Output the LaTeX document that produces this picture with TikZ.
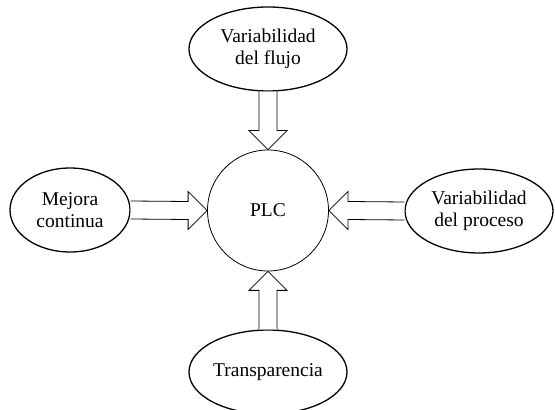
\documentclass[tikz,border=0pt]{standalone}
\usepackage{fontspec}
\setmainfont{Liberation Serif}
\usetikzlibrary{shapes.geometric,calc}
\tikzset{
  x=1pt, y=1pt,
  factor/.style={ellipse, draw, line width=1.3pt, inner sep=0pt,
    minimum width=#1, minimum height=84pt, align=center,
    font=\fontsize{19.5}{22}\selectfont},
  hub/.style={circle, draw, line width=0.8pt, minimum size=121pt,
    inner sep=0pt, font=\fontsize{19.5}{22}\selectfont},
  barrow/.style={draw, line width=0.8pt, line join=miter, fill=white}
}
\begin{document}
\begin{tikzpicture}
\useasboundingbox (0,0) rectangle (555,410);

\node[hub] (plc) at (268,199.5) {PLC};
\node[factor=158pt] (flujo) at (268,361) {Variabilidad\\del flujo};
\node[factor=120pt] (mejora) at (70,200) {Mejora\\continua};
\node[factor=148pt] (proceso) at (479,199) {Variabilidad\\del proceso};
\node[factor=158pt] (transp) at (268,38) {Transparencia};

% hollow block arrows pointing into the hub
\draw[barrow] ($(flujo.south)+(-9,0)$) -- ($(plc.north)+(-9,19)$)
  -- ($(plc.north)+(-19,19)$) -- (plc.north) -- ($(plc.north)+(19,19)$)
  -- ($(plc.north)+(9,19)$) -- ($(flujo.south)+(9,0)$);
\draw[barrow] ($(transp.north)+(-9,0)$) -- ($(plc.south)+(-9,-19)$)
  -- ($(plc.south)+(-19,-19)$) -- (plc.south) -- ($(plc.south)+(19,-19)$)
  -- ($(plc.south)+(9,-19)$) -- ($(transp.north)+(9,0)$);
\draw[barrow] ($(mejora.east)+(0,9)$) -- ($(plc.west)+(-19,9)$)
  -- ($(plc.west)+(-19,19)$) -- (plc.west) -- ($(plc.west)+(-19,-19)$)
  -- ($(plc.west)+(-19,-9)$) -- ($(mejora.east)+(0,-9)$);
\draw[barrow] ($(proceso.west)+(0,9)$) -- ($(plc.east)+(19,9)$)
  -- ($(plc.east)+(19,19)$) -- (plc.east) -- ($(plc.east)+(19,-19)$)
  -- ($(plc.east)+(19,-9)$) -- ($(proceso.west)+(0,-9)$);
\end{tikzpicture}
\end{document}
